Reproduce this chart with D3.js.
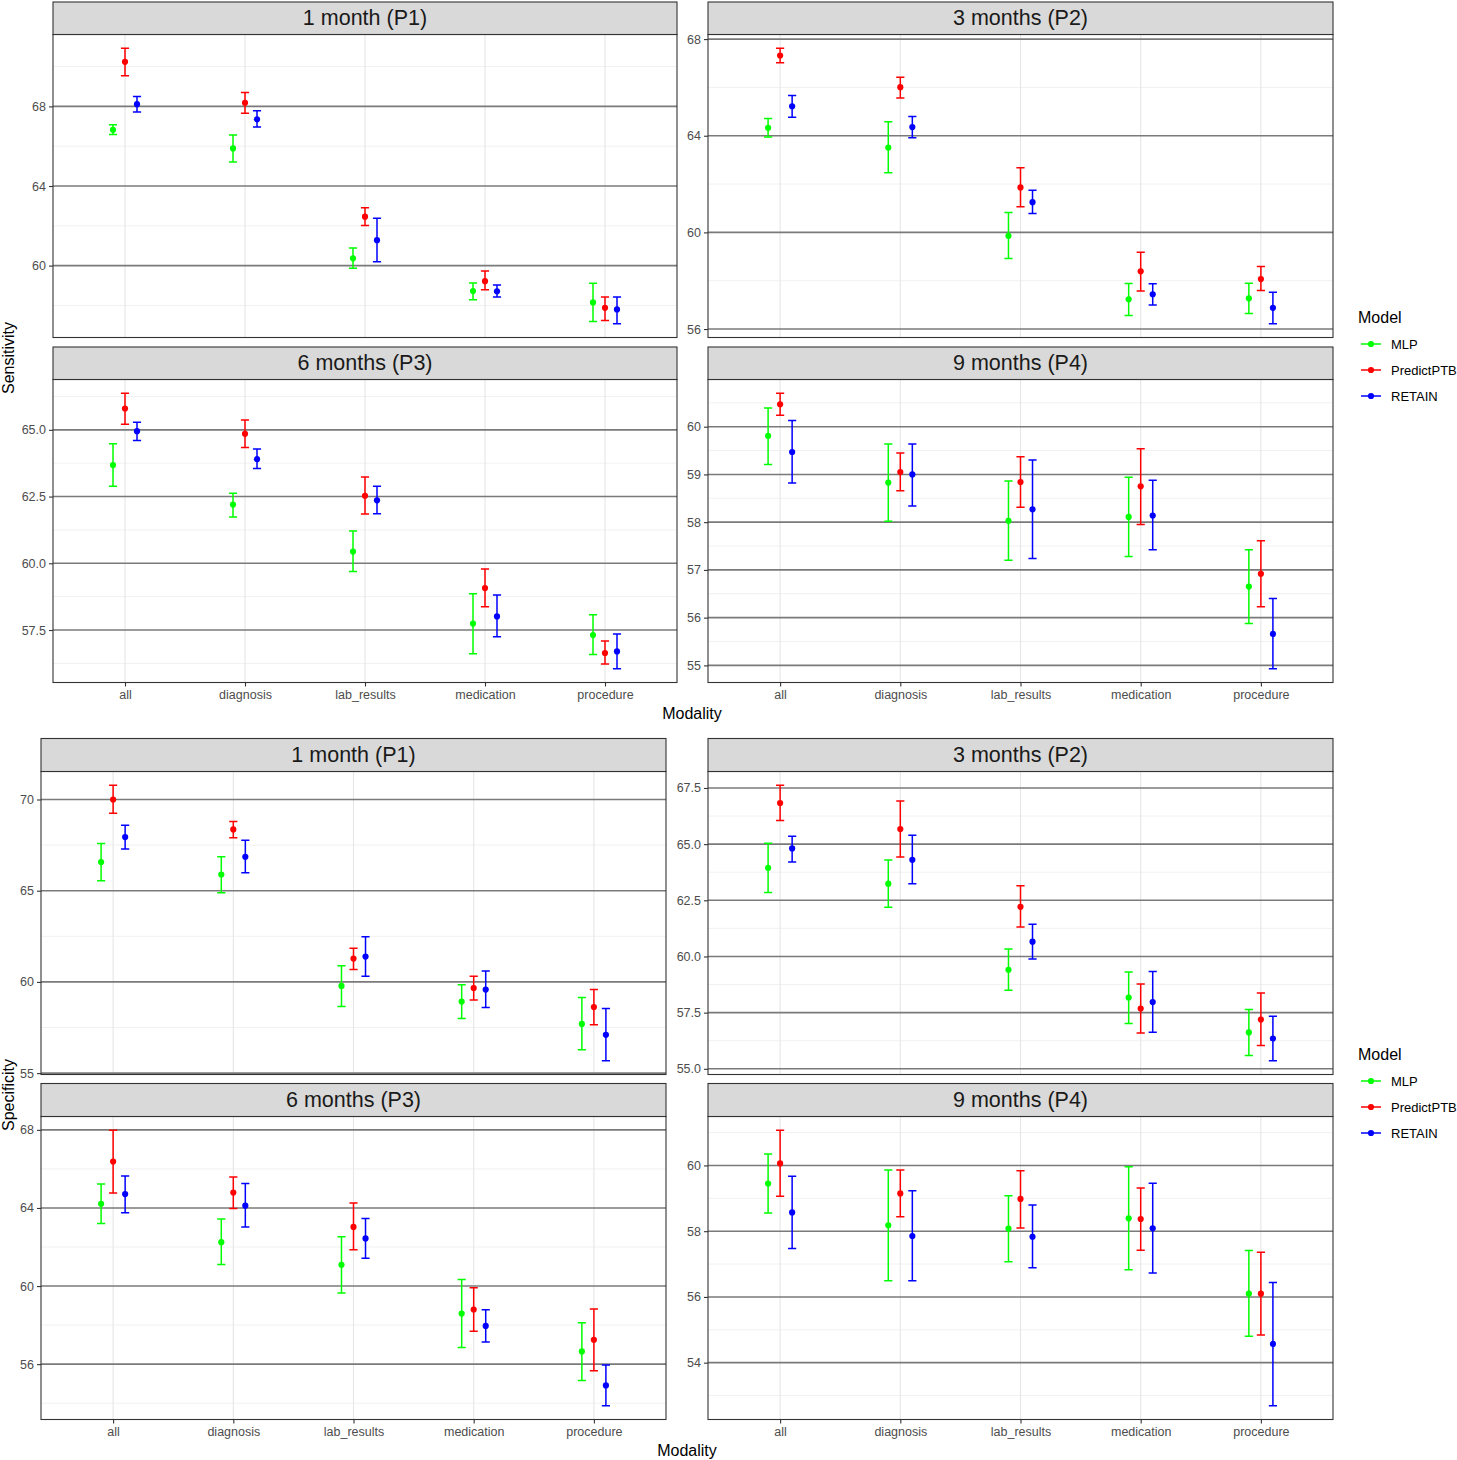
<!DOCTYPE html>
<html>
<head>
<meta charset="utf-8">
<script src="https://cdn.jsdelivr.net/npm/d3@7"></script>
<style>
  html, body { margin: 0; padding: 0; background: #fff; }
  svg text { font-family: "Liberation Sans", Arial, sans-serif; }
</style>
</head>
<body>
<svg id="chart" width="1457" height="1460"></svg>
<script>
// ---------------- DATA ----------------
const modalities = ["all", "diagnosis", "lab_results", "medication", "procedure"];
const models = ["MLP", "PredictPTB", "RETAIN"];
const modelColors = ["#00FF00", "#FF0000", "#0000FF"];
const periods = ["1 month (P1)", "3 months (P2)", "6 months (P3)", "9 months (P4)"];

// rows: MLP, PredictPTB, RETAIN ; columns: modalities
// ---- Sensitivity ----
const sensP1Mean = [[66.82, 65.89, 60.37, 58.72, 58.15], [70.24, 68.18, 62.46, 59.22, 57.88], [68.11, 67.35, 61.28, 58.71, 57.80]];
const sensP1Low  = [[66.59, 65.21, 59.87, 58.28, 57.19], [69.54, 67.65, 62.01, 58.79, 57.24], [67.72, 66.96, 60.19, 58.42, 57.08]];
const sensP1High = [[67.08, 66.56, 60.88, 59.13, 59.12], [70.92, 68.70, 62.91, 59.73, 58.42], [68.50, 67.78, 62.38, 59.03, 58.42]];

const sensP2Mean = [[64.33, 63.51, 59.86, 57.23, 57.27], [67.32, 66.01, 61.86, 58.39, 58.07], [65.22, 64.36, 61.25, 57.44, 56.88]];
const sensP2Low  = [[63.95, 62.47, 58.92, 56.56, 56.64], [67.02, 65.56, 61.06, 57.57, 57.60], [64.77, 63.92, 60.78, 57.00, 56.22]];
const sensP2High = [[64.71, 64.58, 60.82, 57.89, 57.90], [67.62, 66.42, 62.68, 59.18, 58.59], [65.67, 64.80, 61.74, 57.87, 57.52]];

const sensP3Mean = [[63.68, 62.20, 60.44, 57.74, 57.31], [65.80, 64.85, 62.53, 59.07, 56.64], [64.95, 63.90, 62.36, 58.01, 56.70]];
const sensP3Low  = [[62.89, 61.73, 59.69, 56.61, 56.58], [65.21, 64.34, 61.85, 58.37, 56.23], [64.60, 63.55, 61.86, 57.25, 56.05]];
const sensP3High = [[64.48, 62.62, 61.21, 58.86, 58.07], [66.37, 65.37, 63.23, 59.79, 57.09], [65.28, 64.28, 62.89, 58.81, 57.35]];

const sensP4Mean = [[59.81, 58.83, 58.03, 58.11, 56.65], [60.47, 59.05, 58.84, 58.75, 56.92], [59.47, 59.00, 58.27, 58.14, 55.66]];
const sensP4Low  = [[59.21, 58.02, 57.20, 57.28, 55.88], [60.24, 58.66, 58.31, 57.95, 56.23], [58.82, 58.34, 57.24, 57.42, 54.93]];
const sensP4High = [[60.39, 59.64, 58.86, 58.94, 57.42], [60.70, 59.45, 59.37, 59.54, 57.61], [60.13, 59.64, 59.30, 58.88, 56.40]];

// ---- Specificity ----
const specP1Mean = [[66.57, 65.89, 59.78, 58.92, 57.70], [70.00, 68.36, 61.28, 59.66, 58.62], [67.94, 66.86, 61.39, 59.58, 57.10]];
const specP1Low  = [[65.55, 64.89, 58.65, 57.99, 56.28], [69.25, 67.90, 60.68, 59.01, 57.65], [67.28, 65.99, 60.31, 58.60, 55.68]];
const specP1High = [[67.59, 66.86, 60.89, 59.84, 59.14], [70.78, 68.80, 61.85, 60.31, 59.58], [68.59, 67.76, 62.48, 60.60, 58.54]];

const specP2Mean = [[63.95, 63.24, 59.41, 58.17, 56.62], [66.83, 65.67, 62.21, 57.68, 57.19], [64.81, 64.30, 60.66, 57.97, 56.35]];
const specP2Low  = [[62.85, 62.19, 58.50, 57.02, 55.59], [66.05, 64.43, 61.31, 56.59, 56.04], [64.21, 63.24, 59.89, 56.63, 55.36]];
const specP2High = [[65.04, 64.29, 60.33, 59.31, 57.64], [67.62, 66.92, 63.15, 58.77, 58.37], [65.35, 65.40, 61.43, 59.33, 57.34]];

const specP3Mean = [[64.21, 62.25, 61.09, 58.59, 56.65], [66.38, 64.79, 63.03, 58.80, 57.25], [64.71, 64.12, 62.44, 57.96, 54.91]];
const specP3Low  = [[63.20, 61.11, 59.65, 56.85, 55.16], [64.77, 63.97, 61.86, 57.69, 55.66], [63.75, 63.02, 61.43, 57.14, 53.87]];
const specP3High = [[65.23, 63.43, 62.52, 60.34, 58.12], [67.98, 65.59, 64.26, 59.91, 58.83], [65.64, 65.25, 63.46, 58.78, 55.95]];

const specP4Mean = [[59.45, 58.18, 58.08, 58.39, 56.10], [60.06, 59.15, 58.98, 58.37, 56.10], [58.57, 57.85, 57.83, 58.09, 54.57]];
const specP4Low  = [[58.55, 56.49, 57.07, 56.83, 54.80], [59.06, 58.44, 58.10, 57.42, 54.84], [57.47, 56.49, 56.89, 56.73, 52.69]];
const specP4High = [[60.35, 59.86, 59.08, 59.96, 57.41], [61.07, 59.86, 59.84, 59.31, 57.36], [59.67, 59.23, 58.80, 59.46, 56.44]];

// y tick labels per panel
const sensTicks = [[60, 64, 68], [56, 60, 64, 68], [57.5, 60, 62.5, 65], [55, 56, 57, 58, 59, 60]];
const specTicks = [[55, 60, 65, 70], [55, 57.5, 60, 62.5, 65, 67.5], [56, 60, 64, 68], [54, 56, 58, 60]];

// ---------------- LAYOUT ----------------
const svg = d3.select("#chart");
const font = '"Liberation Sans", Arial, sans-serif';

function drawPanel(cfg) {
  const { x0, x1, stripTop, plotTop, plotBottom, title, mean, low, high, ticks } = cfg;
  const g = svg.append("g");
  const allLow = d3.min(low.flat()), allHigh = d3.max(high.flat());
  const pad = (allHigh - allLow) * 0.05;
  const y = d3.scaleLinear().domain([allLow - pad, allHigh + pad]).range([plotBottom, plotTop]);
  const x = d3.scaleLinear().domain([0.4, modalities.length + 0.6]).range([x0, x1]);
  const dom = y.domain();

  g.append("rect").attr("x", x0).attr("y", plotTop).attr("width", x1 - x0).attr("height", plotBottom - plotTop).attr("fill", "#fff");

  // minor grid
  const step = ticks[1] - ticks[0];
  const minors = [];
  for (let v = ticks[0] - step / 2; v <= dom[1]; v += step) if (v >= dom[0]) minors.push(v);
  g.selectAll(".minor").data(minors).join("line")
    .attr("x1", x0).attr("x2", x1).attr("y1", d => y(d)).attr("y2", d => y(d))
    .attr("stroke", "#EFEFEF").attr("stroke-width", 0.9);
  // vertical grid
  g.selectAll(".vgrid").data(modalities).join("line")
    .attr("x1", (d, i) => x(i + 1)).attr("x2", (d, i) => x(i + 1))
    .attr("y1", plotTop).attr("y2", plotBottom)
    .attr("stroke", "#E6E6E6").attr("stroke-width", 1.1);
  // major horizontal grid
  g.selectAll(".major").data(ticks).join("line")
    .attr("x1", x0).attr("x2", x1).attr("y1", d => y(d)).attr("y2", d => y(d))
    .attr("stroke", "#7A7A7A").attr("stroke-width", 1.6);

  // y axis
  const isDec = ticks.some(t => !Number.isInteger(t));
  const fmt = isDec ? d3.format(".1f") : d3.format("d");
  const yAxis = d3.axisLeft(y).tickValues(ticks).tickFormat(fmt).tickSizeInner(4).tickSizeOuter(0).tickPadding(3);
  const ya = g.append("g").attr("transform", `translate(${x0},0)`).call(yAxis);
  ya.select(".domain").remove();
  ya.selectAll(".tick line").attr("stroke", "#333").attr("stroke-width", 1.1);
  ya.selectAll(".tick text").attr("fill", "#4D4D4D").style("font-size", "12.5px").style("font-family", font);

  // x axis (bottom row only)
  if (cfg.showX) {
    const xa = g.append("g").attr("transform", `translate(0,${plotBottom})`)
      .call(d3.axisBottom(x).tickValues(modalities.map((d, i) => i + 1)).tickFormat(v => modalities[v - 1]).tickSizeInner(4).tickSizeOuter(0).tickPadding(4));
    xa.select(".domain").remove();
    xa.selectAll(".tick line").attr("stroke", "#333").attr("stroke-width", 1.1);
    xa.selectAll(".tick text").attr("fill", "#4D4D4D").style("font-size", "12.5px").style("font-family", font);
  }

  // data
  const dodge = [-0.1, 0, 0.1];
  const capHalf = 0.034;
  models.forEach((m, k) => {
    const rows = modalities.map((mod, i) => ({ xi: i + 1 + dodge[k], mean: mean[k][i], lo: low[k][i], hi: high[k][i] }));
    const gm = g.append("g");
    gm.selectAll(".eb").data(rows).join("path")
      .attr("d", d => `M${x(d.xi - capHalf)},${y(d.hi)}H${x(d.xi + capHalf)}M${x(d.xi)},${y(d.hi)}V${y(d.lo)}M${x(d.xi - capHalf)},${y(d.lo)}H${x(d.xi + capHalf)}`)
      .attr("fill", "none").attr("stroke", modelColors[k]).attr("stroke-width", 1.5);
    gm.selectAll(".pt").data(rows).join("circle")
      .attr("cx", d => x(d.xi)).attr("cy", d => y(d.mean)).attr("r", 3.1)
      .attr("fill", modelColors[k]);
  });

  // border
  g.append("rect").attr("x", x0).attr("y", plotTop).attr("width", x1 - x0).attr("height", plotBottom - plotTop)
    .attr("fill", "none").attr("stroke", "#333").attr("stroke-width", 1.1);
  // strip
  g.append("rect").attr("x", x0).attr("y", stripTop).attr("width", x1 - x0).attr("height", plotTop - stripTop)
    .attr("fill", "#D9D9D9").attr("stroke", "#333").attr("stroke-width", 1.1);
  g.append("text").attr("x", (x0 + x1) / 2).attr("y", (stripTop + plotTop) / 2)
    .attr("text-anchor", "middle").attr("dominant-baseline", "central")
    .attr("fill", "#1A1A1A").style("font-size", "21.5px").style("font-family", font).text(title);
}

function drawLegend(top) {
  const g = svg.append("g");
  g.append("text").attr("x", 1358).attr("y", top).attr("fill", "#000")
    .style("font-size", "16px").style("font-family", font).text("Model");
  models.forEach((m, k) => {
    const yy = top + 21 + k * 26;
    g.append("line").attr("x1", 1361).attr("x2", 1381).attr("y1", yy).attr("y2", yy)
      .attr("stroke", modelColors[k]).attr("stroke-width", 1.5);
    g.append("circle").attr("cx", 1371).attr("cy", yy).attr("r", 3.1).attr("fill", modelColors[k]);
    g.append("text").attr("x", 1391).attr("y", yy).attr("dominant-baseline", "central")
      .attr("fill", "#000").style("font-size", "13px").style("font-family", font).text(m);
  });
}

function drawBlock(cfg) {
  const { leftX0, leftX1, rightX0, rightX1, rows, means, lows, highs, ticks, yTitle, yTitleY, xTitleX, xTitleY, legendTop } = cfg;
  const cols = [[leftX0, leftX1], [rightX0, rightX1]];
  for (let p = 0; p < 4; p++) {
    const r = Math.floor(p / 2), c = p % 2;
    drawPanel({
      x0: cols[c][0], x1: cols[c][1],
      stripTop: rows[r][0], plotTop: rows[r][1], plotBottom: rows[r][2],
      title: periods[p], mean: means[p], low: lows[p], high: highs[p], ticks: ticks[p],
      showX: r === 1
    });
  }
  svg.append("text").attr("transform", `translate(14,${yTitleY}) rotate(-90)`)
    .attr("text-anchor", "middle").attr("fill", "#000")
    .style("font-size", "16px").style("font-family", font).text(yTitle);
  svg.append("text").attr("x", xTitleX).attr("y", xTitleY).attr("text-anchor", "middle").attr("fill", "#000")
    .style("font-size", "16px").style("font-family", font).text("Modality");
  drawLegend(legendTop);
}

drawBlock({
  leftX0: 53, leftX1: 677, rightX0: 708, rightX1: 1333,
  rows: [[2, 34.5, 337.5], [347, 379.5, 682.5]],
  means: [sensP1Mean, sensP2Mean, sensP3Mean, sensP4Mean],
  lows: [sensP1Low, sensP2Low, sensP3Low, sensP4Low],
  highs: [sensP1High, sensP2High, sensP3High, sensP4High],
  ticks: sensTicks, yTitle: "Sensitivity", yTitleY: 358,
  xTitleX: 692, xTitleY: 719, legendTop: 323
});

drawBlock({
  leftX0: 41, leftX1: 666, rightX0: 708, rightX1: 1333,
  rows: [[738.5, 771.5, 1074.5], [1083.5, 1116.5, 1419.5]],
  means: [specP1Mean, specP2Mean, specP3Mean, specP4Mean],
  lows: [specP1Low, specP2Low, specP3Low, specP4Low],
  highs: [specP1High, specP2High, specP3High, specP4High],
  ticks: specTicks, yTitle: "Specificity", yTitleY: 1095,
  xTitleX: 687, xTitleY: 1456, legendTop: 1060
});
</script>
</body>
</html>
